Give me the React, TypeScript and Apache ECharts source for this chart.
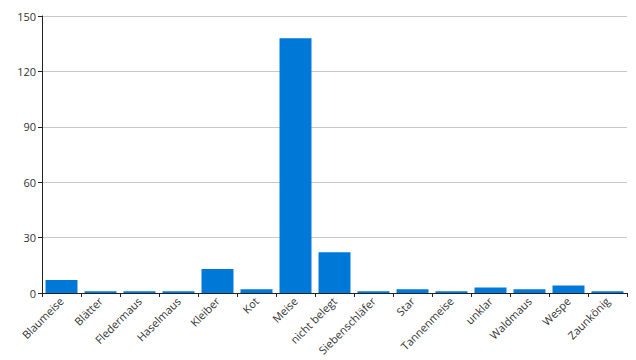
import React, { useEffect, useRef } from "react";
import * as echarts from "echarts";

const categories = [
  "Blaumeise", "Blätter", "Fledermaus", "Haselmaus", "Kleiber", "Kot", "Meise",
  "nicht belegt", "Siebenschläfer", "Star", "Tannenmeise", "unklar", "Waldmaus",
  "Wespe", "Zaunkönig",
];
const counts = [7, 1, 1, 1, 13, 2, 138, 22, 1, 2, 1, 3, 2, 4, 1];
const yTicks = { min: 0, max: 150, interval: 30 };

export default function App() {
  const ref = useRef<HTMLDivElement>(null);
  useEffect(() => {
    const chart = echarts.init(ref.current!, null, { renderer: "svg" });
    const font = "'Open Sans', 'Segoe UI', sans-serif";
    chart.setOption({
      animation: false,
      grid: { left: 42, right: 9, top: 16, bottom: 67 },
      xAxis: {
        type: "category",
        data: categories,
        axisLine: { lineStyle: { color: "#222", width: 1 } },
        axisTick: { show: true, alignWithLabel: false, length: 4, lineStyle: { color: "#222" } },
        axisLabel: { rotate: 45, interval: 0, color: "#333", fontSize: 11, fontFamily: font, margin: 6 },
      },
      yAxis: {
        type: "value",
        min: yTicks.min,
        max: yTicks.max,
        interval: yTicks.interval,
        axisLine: { show: true, lineStyle: { color: "#222", width: 1 } },
        axisTick: { show: true, length: 4, lineStyle: { color: "#222" } },
        axisLabel: { color: "#333", fontSize: 11, fontFamily: font, margin: 6 },
        splitLine: { lineStyle: { color: "#c8c8c8" } },
      },
      series: [
        {
          type: "bar",
          data: counts,
          barCategoryGap: "18%",
          itemStyle: { color: "#0078d7" },
        },
      ],
    });
    return () => chart.dispose();
  }, []);
  return <div ref={ref} style={{ width: 636, height: 360, position: "absolute", left: 0, top: 0 }} />;
}
